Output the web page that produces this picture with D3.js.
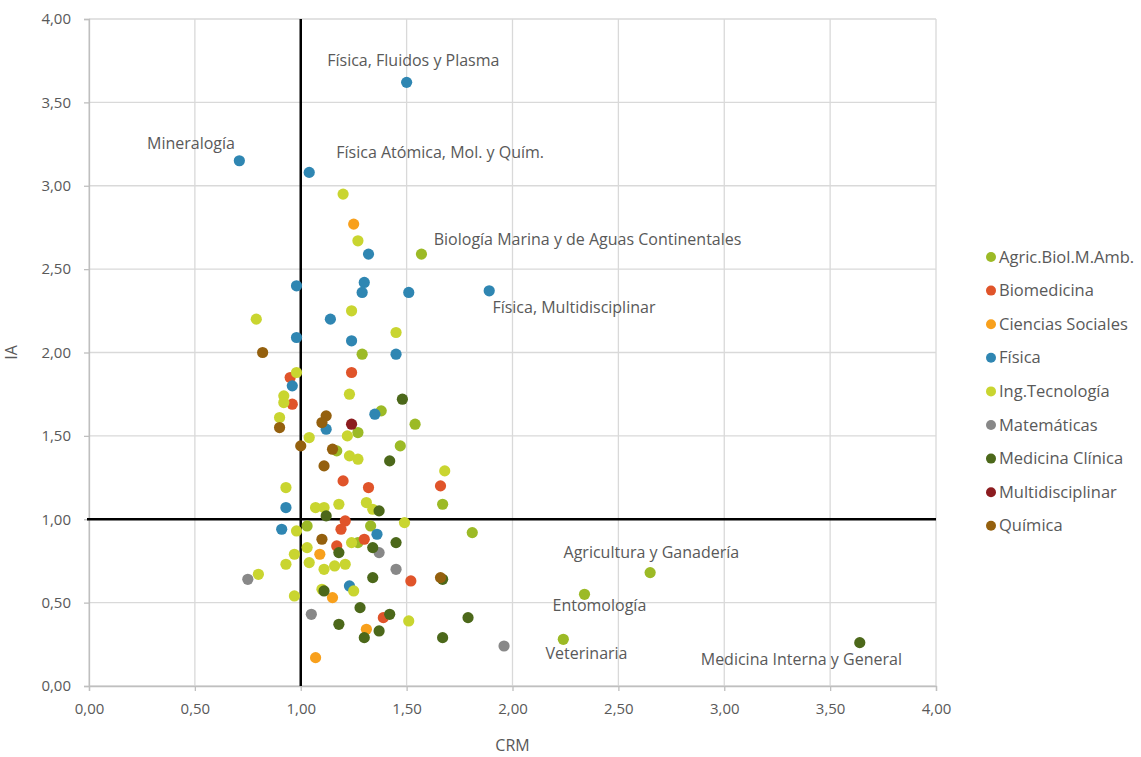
<!DOCTYPE html>
<html>
<head>
<meta charset="utf-8">
<script src="https://cdn.jsdelivr.net/npm/d3@7"></script>
<style>
  html, body { margin: 0; padding: 0; background: #ffffff; }
  svg { display: block; }
  text { font-family: "Open Sans", "Noto Sans", sans-serif; fill: #595959; }
</style>
</head>
<body>
<svg id="chart" width="1141" height="757"></svg>
<script>
// ---------- DATA ----------
const xTicks = [0, 0.5, 1, 1.5, 2, 2.5, 3, 3.5, 4];
const yTicks = [0, 0.5, 1, 1.5, 2, 2.5, 3, 3.5, 4];
const xTitle = "CRM";
const yTitle = "IA";

const categories = ["Agric.Biol.M.Amb.", "Biomedicina", "Ciencias Sociales", "Física", "Ing.Tecnología",
                    "Matemáticas", "Medicina Clínica", "Multidisciplinar", "Química"];
const colors = ["#9cba26", "#e0542a", "#f8a01c", "#2f86b2", "#c9d530", "#888888", "#4c681a", "#8c1c1f", "#94600e"];

// [CRM, IA] pairs per category
const agric = [[1.57,2.59],[1.29,1.99],[1.38,1.65],[1.54,1.57],[1.27,1.52],[1.47,1.44],[1.17,1.41],
  [1.67,1.09],[1.03,0.96],[1.33,0.96],[1.27,0.86],[1.81,0.92],[2.34,0.55],[2.65,0.68],[2.24,0.28]];
const biomedicina = [[1.24,1.88],[0.95,1.85],[0.96,1.69],[1.20,1.23],[1.32,1.19],[1.66,1.20],[1.21,0.99],
  [1.19,0.94],[1.30,0.88],[1.17,0.84],[1.52,0.63],[1.39,0.41]];
const cienciasSociales = [[1.25,2.77],[1.09,0.79],[1.15,0.53],[1.31,0.34],[1.07,0.17]];
const fisica = [[0.71,3.15],[1.04,3.08],[1.50,3.62],[1.32,2.59],[0.98,2.40],[1.30,2.42],[1.29,2.36],
  [1.51,2.36],[1.89,2.37],[1.14,2.20],[0.98,2.09],[1.24,2.07],[1.45,1.99],[0.96,1.80],[1.35,1.63],
  [1.12,1.54],[0.93,1.07],[0.91,0.94],[1.36,0.91],[1.23,0.60]];
const ingTecnologia = [[1.20,2.95],[1.27,2.67],[1.24,2.25],[0.79,2.20],[1.45,2.12],[0.98,1.88],[1.23,1.75],
  [0.92,1.74],[0.92,1.70],[0.90,1.61],[1.04,1.49],[1.22,1.50],[1.23,1.38],[1.27,1.36],[1.68,1.29],
  [0.93,1.19],[1.07,1.07],[1.11,1.07],[1.18,1.09],[1.31,1.10],[1.34,1.06],[1.49,0.98],[0.98,0.93],
  [1.24,0.86],[1.03,0.83],[0.97,0.79],[0.93,0.73],[1.04,0.74],[1.11,0.70],[1.16,0.72],[1.21,0.73],
  [0.80,0.67],[0.97,0.54],[1.10,0.58],[1.25,0.57],[1.51,0.39]];
const matematicas = [[1.37,0.80],[1.45,0.70],[0.75,0.64],[1.05,0.43],[1.96,0.24]];
const medicinaClinica = [[1.48,1.72],[1.42,1.35],[1.37,1.05],[1.12,1.02],[1.18,0.80],[1.34,0.83],[1.45,0.86],
  [1.34,0.65],[1.67,0.64],[1.11,0.57],[1.28,0.47],[1.18,0.37],[1.42,0.43],[1.30,0.29],[1.37,0.33],
  [1.79,0.41],[1.67,0.29],[3.64,0.26]];
const multidisciplinar = [[1.24,1.57]];
const quimica = [[0.82,2.00],[1.12,1.62],[1.10,1.58],[0.90,1.55],[1.00,1.44],[1.15,1.42],[1.11,1.32],
  [1.10,0.88],[1.66,0.65]];

const seriesData = [agric, biomedicina, cienciasSociales, fisica, ingTecnologia,
                    matematicas, medicinaClinica, multidisciplinar, quimica];

// annotation texts and their anchor (start of text, baseline) in data units
const annotations = [
  {text: "Física, Fluidos y Plasma", x: 1.125, y: 3.718},
  {text: "Mineralogía", x: 0.274, y: 3.22},
  {text: "Física Atómica, Mol. y Quím.", x: 1.168, y: 3.166},
  {text: "Biología Marina y de Aguas Continentales", x: 1.628, y: 2.645},
  {text: "Física, Multidisciplinar", x: 1.905, y: 2.237},
  {text: "Agricultura y Ganadería", x: 2.241, y: 0.768},
  {text: "Entomología", x: 2.189, y: 0.45},
  {text: "Veterinaria", x: 2.156, y: 0.162},
  {text: "Medicina Interna y General", x: 2.889, y: 0.126}
];
const refX = 1, refY = 1;

// ---------- CHART ----------
const svg = d3.select("#chart");
const plot = {left: 89, right: 936, top: 19, bottom: 686};
const x = d3.scaleLinear().domain([0, 4]).range([plot.left, plot.right]);
const y = d3.scaleLinear().domain([0, 4]).range([plot.bottom, plot.top]);
const fmt = d => d.toFixed(2).replace(".", ",");

// gridlines
svg.append("g").selectAll("line").data(xTicks).join("line")
  .attr("x1", d => x(d)).attr("x2", d => x(d))
  .attr("y1", plot.top).attr("y2", plot.bottom)
  .attr("stroke", "#d9d9d9").attr("stroke-width", 1.3);
svg.append("g").selectAll("line").data(yTicks).join("line")
  .attr("y1", d => y(d)).attr("y2", d => y(d))
  .attr("x1", plot.left).attr("x2", plot.right)
  .attr("stroke", "#d9d9d9").attr("stroke-width", 1.3);

// axes
const xAxis = svg.append("g").attr("transform", `translate(0,${plot.bottom})`)
  .call(d3.axisBottom(x).tickValues(xTicks).tickFormat(fmt).tickSize(5).tickPadding(12));
const yAxis = svg.append("g").attr("transform", `translate(${plot.left},0)`)
  .call(d3.axisLeft(y).tickValues(yTicks).tickFormat(fmt).tickSize(5).tickPadding(13));
[xAxis, yAxis].forEach(g => {
  g.select(".domain").attr("stroke", "#bfbfbf").attr("stroke-width", 1.3);
  g.selectAll(".tick line").attr("stroke", "#bfbfbf").attr("stroke-width", 1.3);
  g.selectAll(".tick text").attr("fill", "#595959").style("font-size", "15px")
    .style("font-family", '"Open Sans", "Noto Sans", sans-serif');
});

// axis titles
svg.append("text").attr("x", (plot.left + plot.right) / 2).attr("y", 751)
  .attr("text-anchor", "middle").style("font-size", "16px").text(xTitle);
svg.append("text").attr("transform", `translate(17,${(plot.top + plot.bottom) / 2}) rotate(-90)`)
  .attr("text-anchor", "middle").style("font-size", "16px").text(yTitle);

// reference lines
svg.append("line").attr("x1", x(refX)).attr("x2", x(refX)).attr("y1", plot.top).attr("y2", plot.bottom)
  .attr("stroke", "#000").attr("stroke-width", 2.5);
svg.append("line").attr("x1", plot.left - 2).attr("x2", plot.right).attr("y1", y(refY)).attr("y2", y(refY))
  .attr("stroke", "#000").attr("stroke-width", 2.5);

// points
seriesData.forEach((arr, i) => {
  svg.append("g").selectAll("circle").data(arr).join("circle")
    .attr("cx", d => x(d[0])).attr("cy", d => y(d[1])).attr("r", 5.6)
    .attr("fill", colors[i]);
});

// annotations
svg.append("g").selectAll("text").data(annotations).join("text")
  .attr("x", d => x(d.x)).attr("y", d => y(d.y))
  .style("font-size", "16px").text(d => d.text);

// legend
const legend = svg.append("g");
categories.forEach((c, i) => {
  const ly = 257 + i * 33.6;
  legend.append("circle").attr("cx", 991).attr("cy", ly).attr("r", 5).attr("fill", colors[i]);
  legend.append("text").attr("x", 999).attr("y", ly + 5.5).style("font-size", "16.5px").text(c);
});
</script>
</body>
</html>
